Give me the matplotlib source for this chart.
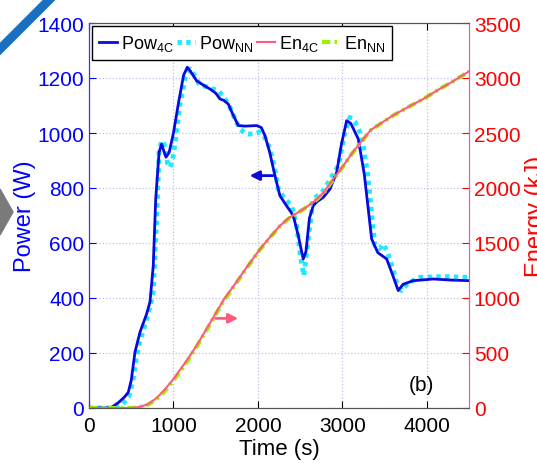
import matplotlib
matplotlib.use('Agg')
import matplotlib.pyplot as plt
from matplotlib.patches import Polygon
from matplotlib.lines import Line2D

plt.rcParams['font.family'] = ['Liberation Sans', 'DejaVu Sans']
plt.rcParams['mathtext.default'] = 'regular'

# power, 4C model (s, W)
t_p4c = [0, 200, 270, 350, 420, 465, 500, 545, 604, 680, 722, 761, 790, 830, 860, 885, 912, 950,
         1000, 1060, 1120, 1164, 1200, 1275, 1350, 1433, 1500, 1551, 1600, 1650, 1700, 1768, 1850,
         1985, 2040, 2084, 2140, 2202, 2261, 2340, 2419, 2478, 2510, 2537, 2570, 2610, 2656, 2700,
         2774, 2853, 2933, 2990, 3051, 3100, 3189, 3260, 3347, 3420, 3525, 3600, 3662, 3720, 3840,
         4077, 4300, 4500]
pow_4c = [0, 0, 3, 20, 40, 57, 100, 204, 276, 340, 385, 517, 760, 930, 960, 935, 912, 930,
          1000, 1110, 1210, 1239, 1225, 1190, 1175, 1160, 1145, 1124, 1118, 1105, 1070, 1027, 1025,
          1027, 1020, 990, 930, 845, 772, 735, 700, 627, 580, 542, 570, 690, 736, 750,
          766, 796, 857, 960, 1045, 1035, 978, 850, 615, 565, 542, 480, 427, 450, 463,
          469, 465, 463]

# power, neural network
t_pnn = [0, 250, 320, 400, 470, 520, 560, 600, 650, 700, 760, 800, 830, 860, 890, 930, 960, 990,
         1030, 1080, 1140, 1196, 1250, 1300, 1353, 1420, 1531, 1600, 1669, 1730, 1788, 1850, 1906,
         1960, 2025, 2080, 2143, 2200, 2241, 2320, 2399, 2459, 2510, 2545, 2590, 2656, 2700, 2774,
         2852, 2952, 3030, 3090, 3150, 3229, 3300, 3386, 3440, 3485, 3520, 3564, 3640, 3702, 3780,
         3919, 4200, 4500]
pow_nn = [0, 0, 2, 15, 40, 100, 180, 240, 290, 340, 420, 680, 930, 972, 960, 890, 875, 900,
          990, 1110, 1200, 1233, 1210, 1180, 1172, 1165, 1154, 1130, 1093, 1050, 1015, 998, 996,
          998, 1003, 985, 942, 870, 796, 760, 736, 663, 540, 481, 600, 760, 770, 790,
          830, 881, 1000, 1057, 1040, 990, 850, 590, 580, 596, 575, 542, 460, 427, 455,
          475, 478, 475]

# energy (s, kJ)
t_en = [0, 500, 600, 700, 800, 900, 1000, 1100, 1200, 1300, 1400, 1500, 1600, 1729, 1850, 2025,
        2150, 2261, 2370, 2478, 2560, 2656, 2780, 2893, 3000, 3100, 3200, 3340, 3445, 3600, 3800,
        3958, 4150, 4300, 4500]
en_4c = [0, 0, 10, 35, 90, 170, 264, 370, 480, 600, 730, 860, 990, 1127, 1260, 1445,
         1560, 1657, 1730, 1779, 1820, 1870, 1960, 2082, 2190, 2300, 2400, 2530, 2582, 2660, 2745,
         2809, 2900, 2965, 3060]
en_nn = [0, 0, 8, 30, 80, 155, 250, 355, 465, 590, 718, 850, 980, 1118, 1252, 1440,
         1555, 1652, 1726, 1776, 1817, 1866, 1956, 2078, 2186, 2296, 2397, 2527, 2580, 2658, 2743,
         2808, 2899, 2964, 3060]

fig = plt.figure(figsize=(5.37, 4.64), dpi=100)
ax = fig.add_axes([89/537, 55/464, 380/537, 385/464])
ax2 = ax.twinx()

ax.plot(t_p4c, pow_4c, color='#0a0ae0', lw=2, zorder=3)
ax.plot(t_pnn, pow_nn, color='#22e8ff', lw=3.5, ls=(0, (0.9, 0.9)), zorder=2)
ax2.plot(t_en, en_4c, color='#ff5a80', lw=1.5, zorder=3)
ax2.plot(t_en, en_nn, color='#9cf000', lw=3, ls=(0, (2, 1, 0.6, 1)), zorder=2)

ax.set_xlim(0, 4500)
ax.set_ylim(0, 1400)
ax2.set_ylim(0, 3500)
ax.set_xticks(range(0, 4001, 1000))
ax.set_yticks(range(0, 1401, 200))
ax2.set_yticks(range(0, 3501, 500))
ax.grid(True, ls=':', color='#c0c0e8', lw=0.9)

ax.tick_params(axis='x', direction='in', top=True, labelsize=15, colors='black', length=5, pad=6)
ax.tick_params(axis='y', direction='in', labelsize=15, colors='#0000ff', length=5)
ax2.tick_params(axis='y', direction='in', labelsize=15, colors='#ff0000', length=5)
for a in (ax, ax2):
    a.spines['left'].set_color('#3030ff')
    a.spines['right'].set_color('#e060a0')
    a.spines['top'].set_color('#555555')
    a.spines['bottom'].set_color('#555555')

ax.set_xlabel('Time (s)', fontsize=16, labelpad=2)
ax.set_ylabel('Power (W)', fontsize=17, color='#0000ff', labelpad=1)
ax2.set_ylabel('Energy (kJ)', fontsize=17, color='#ff0000', labelpad=3)

ax.annotate('', xy=(1870, 845), xytext=(2210, 845),
            arrowprops=dict(arrowstyle='-|>', color='#0a0ae0', lw=2, mutation_scale=14))
ax.annotate('', xy=(1800, 326), xytext=(1465, 326),
            arrowprops=dict(arrowstyle='-|>', color='#ff5a80', lw=2, mutation_scale=14))
ax.text(3940, 87, '(b)', fontsize=15, ha='center', va='center')

handles = [Line2D([], [], color='#0a0ae0', lw=2),
           Line2D([], [], color='#22e8ff', lw=3.5, ls=(0, (0.9, 0.9))),
           Line2D([], [], color='#ff5a80', lw=1.5),
           Line2D([], [], color='#9cf000', lw=3, ls=(0, (2, 1, 0.6, 1)))]
labels = ['Pow$_{4C}$', 'Pow$_{NN}$', 'En$_{4C}$', 'En$_{NN}$']
leg = ax.legend(handles, labels, loc='upper left', bbox_to_anchor=(0.008, 0.993), ncol=4,
                fontsize=13, frameon=True, fancybox=False, edgecolor='black', framealpha=1,
                handlelength=1.0, handletextpad=0.2, columnspacing=0.2, borderpad=0.4,
                borderaxespad=0)
leg.get_frame().set_linewidth(1)
leg.set_zorder(10)

# slide decorations around the figure
fig.add_artist(Line2D([0, 50/537], [1 - 50/464, 1], transform=fig.transFigure,
                      color='#1a70c0', lw=6.5))
fig.add_artist(Polygon([[0, 1 - 190/464], [13/537, 1 - 213/464], [0, 1 - 236/464]],
                       closed=True, transform=fig.transFigure, color='#7a7a7a'))

fig.savefig('out.png', dpi=100)
